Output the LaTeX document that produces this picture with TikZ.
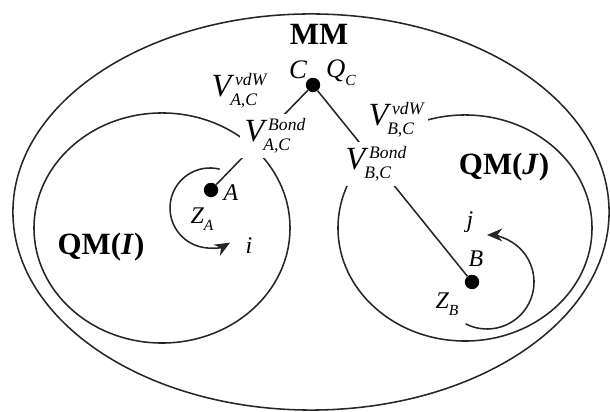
\documentclass[tikz,border=0pt]{standalone}
\usepackage{amsmath}
\usepackage{fontspec}
\setmainfont{Liberation Serif}
\usetikzlibrary{arrows.meta, positioning, calc}

\newcommand{\vpot}[2]{%
  \textit{V}\kern0.5pt\rlap{\kern-3.5pt\raisebox{-6.4pt}{\fontsize{12.5}{14}\selectfont\itshape #2}}%
  \raisebox{7.8pt}{\fontsize{12.5}{14}\selectfont\itshape #1}}
\newcommand{\withsub}[2]{\textit{#1}\raisebox{-0.3em}{\fontsize{11}{12}\selectfont\itshape #2}}

\begin{document}
\begin{tikzpicture}[
    x=0.025cm, y=0.025cm,
    qmregion/.style={draw=black!85, line width=1.1pt},
    atom/.style={circle, fill=black, inner sep=0pt, minimum size=0.36cm},
    bond/.style={draw=black!85, line width=1.1pt},
    circarrow/.style={draw=black!85, line width=1.1pt, -{Stealth[length=3.8mm, width=3.2mm, inset=1.2mm]}},
    zone/.style={inner sep=1pt, font=\fontsize{22}{24}\selectfont\bfseries},
    term/.style={fill=white, inner sep=3pt, font=\fontsize{23}{25}\selectfont},
    lbl/.style={inner sep=1pt, font=\fontsize{17}{19}\selectfont\itshape}
]
\useasboundingbox (0,0) rectangle (610,412);

% Regions
\draw[qmregion] (311,200) ellipse [x radius=7.45cm, y radius=4.95cm];
\draw[qmregion] (162,184) ellipse [x radius=3.2cm, y radius=2.875cm];
\draw[qmregion] (465,184) ellipse [x radius=3.175cm, y radius=2.825cm];

% Atoms
\node[atom] (A) at (211,222) {};
\node[atom] (C) at (313,327) {};
\node[atom] (B) at (472,130) {};

% Bonds
\draw[bond] (A) -- (C);
\draw[bond] (B) -- (C);

% Charge rotations
\coordinate (rotA) at (210,204);
\coordinate (rotB) at (487,130);
\draw[circarrow] ($(rotA)+(76:1cm)$) arc[start angle=76, end angle=300, radius=1cm];
\draw[circarrow] ($(rotB)+(-117:1.175cm)$) arc[start angle=-117, end angle=90, radius=1.175cm];

% Labels
\node[zone] (mm) at (319,378) {MM};
\node[zone] (qmi) at (101,165) {QM(\textit{I})};
\node[zone] (qmj) at (504,245) {QM(\textit{J})};

\node[lbl, font=\fontsize{19}{21}\selectfont\itshape] (cl) at (298,342) {C};
\node[lbl, font=\fontsize{19}{21}\selectfont\itshape] (qc) at (341,339) {\withsub{Q}{C}};

\node[term] (vdwac) at (239,321) {\vpot{vdW}{A,C}};
\node[term] (bondac) at (275,276) {\vpot{Bond}{A,C}};
\node[term] (vdwbc) at (396,292) {\vpot{vdW}{B,C}};
\node[term] (bondbc) at (376,248) {\vpot{Bond}{B,C}};

\node[lbl] (al) at (231,219) {A};
\node[lbl] (za) at (202,193) {\withsub{Z}{A}};
\node[lbl] (il) at (249,166) {i};
\node[lbl] (bl) at (476,153) {B};
\node[lbl] (zb) at (447,108) {\withsub{Z}{B}};
\node[lbl] (jl) at (470,190) {j};

\end{tikzpicture}
\end{document}
